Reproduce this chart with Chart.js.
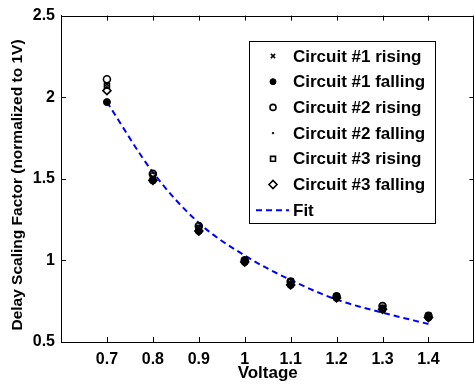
<!DOCTYPE html>
<html>
<head>
<meta charset="utf-8">
<script src="https://cdn.jsdelivr.net/npm/chart.js@4"></script>
<style>
  html, body { margin: 0; padding: 0; background: #fff; overflow: hidden; }
  #wrap { width: 474px; height: 389px; overflow: hidden; }
  canvas { display: block; }
</style>
</head>
<body>
<div id="wrap"><canvas id="delayChart" width="480" height="389"></canvas></div>
<script>
// Supply voltages and the delay of each circuit, normalized to the 1V value
const voltages = [0.7, 0.8, 0.9, 1.0, 1.1, 1.2, 1.3, 1.4];
const c1Rising  = [2.08, 1.51, 1.20, 1.00, 0.86, 0.78, 0.71, 0.66];
const c1Falling = [1.97, 1.49, 1.18, 0.99, 0.85, 0.77, 0.70, 0.65];
const c2Rising  = [2.11, 1.53, 1.21, 1.00, 0.87, 0.78, 0.72, 0.66];
const c2Falling = [2.08, 1.50, 1.19, 1.00, 0.86, 0.77, 0.71, 0.65];
const c3Rising  = [2.07, 1.52, 1.20, 1.00, 0.87, 0.78, 0.71, 0.66];
const c3Falling = [2.04, 1.49, 1.18, 0.99, 0.85, 0.77, 0.70, 0.65];
const fitValues = [1.97, 1.54, 1.23, 1.03, 0.88, 0.76, 0.68, 0.61];

const xTicks = [0.7, 0.8, 0.9, 1.0, 1.1, 1.2, 1.3, 1.4];
const yTicks = [0.5, 1.0, 1.5, 2.0, 2.5];
const yTitle = 'Delay Scaling Factor (normalized to 1V)';

const FONT = '"Liberation Sans", Arial, Helvetica, sans-serif';
Chart.defaults.font.family = FONT;
Chart.defaults.font.size = 16;
Chart.defaults.font.weight = 'bold';
Chart.defaults.color = '#000';

const toPoints = ys => voltages.map((v, i) => ({ x: v, y: ys[i] }));

function markerSet(label, ys, style, radius, filled, width) {
    return {
        label: label,
        data: toPoints(ys),
        showLine: false,
        pointStyle: style,
        pointRadius: radius,
        pointHoverRadius: radius,
        pointBorderWidth: width,
        pointBorderColor: '#000',
        pointBackgroundColor: filled ? '#000' : 'rgba(0,0,0,0)',
        order: 1
    };
}

const datasets = [
    markerSet('Circuit #1 rising', c1Rising, 'crossRot', 3, true, 1.5),
    markerSet('Circuit #1 falling', c1Falling, 'circle', 3.5, true, 1),
    markerSet('Circuit #2 rising', c2Rising, 'circle', 3.5, false, 1.6),
    markerSet('Circuit #2 falling', c2Falling, 'circle', 0.8, true, 1),
    markerSet('Circuit #3 rising', c3Rising, 'rect', 3.5, false, 1.6),
    markerSet('Circuit #3 falling', c3Falling, 'rectRot', 4, false, 1.6),
    {
        label: 'Fit',
        data: toPoints(fitValues),
        borderColor: '#0000ff',
        borderWidth: 2,
        borderDash: [6, 4],
        pointRadius: 0,
        cubicInterpolationMode: 'monotone',
        fill: false,
        order: 2
    }
];

// inward tick marks on all four sides plus the top/right box edges
const boxTicks = {
    id: 'boxTicks',
    afterDraw(chart) {
        const { ctx, chartArea: a, scales: { x, y } } = chart;
        const len = 5;
        ctx.save();
        ctx.strokeStyle = '#000';
        ctx.lineWidth = 1;
        ctx.beginPath();
        ctx.moveTo(a.left, Math.round(a.top) + 0.5);
        ctx.lineTo(a.right, Math.round(a.top) + 0.5);
        ctx.moveTo(Math.round(a.right) - 0.5, a.top);
        ctx.lineTo(Math.round(a.right) - 0.5, a.bottom);
        xTicks.forEach(v => {
            const px = Math.round(x.getPixelForValue(v)) + 0.5;
            ctx.moveTo(px, a.bottom);
            ctx.lineTo(px, a.bottom - len);
            ctx.moveTo(px, a.top);
            ctx.lineTo(px, a.top + len);
        });
        yTicks.forEach(v => {
            const py = Math.round(y.getPixelForValue(v)) + 0.5;
            ctx.moveTo(a.left, py);
            ctx.lineTo(a.left + len, py);
            ctx.moveTo(a.right, py);
            ctx.lineTo(a.right - len, py);
        });
        ctx.stroke();

        // rotated y axis title, sitting a little below the axis centre
        ctx.font = 'bold 15.5px ' + FONT;
        ctx.fillStyle = '#000';
        ctx.textAlign = 'center';
        ctx.textBaseline = 'middle';
        ctx.translate(18, 185);
        ctx.rotate(-Math.PI / 2);
        ctx.fillText(yTitle, 0, 0);
        ctx.restore();
    }
};

// boxed legend in the upper right of the plot
const boxLegend = {
    id: 'boxLegend',
    afterDraw(chart) {
        const ctx = chart.ctx;
        const left = 249.5, top = 41.5, w = 186, h = 182;
        const rowY = 56, rowStep = 25.7, markX = 273, textX = 293;
        ctx.save();
        ctx.fillStyle = '#fff';
        ctx.fillRect(left, top, w, h);
        ctx.strokeStyle = '#000';
        ctx.lineWidth = 1;
        ctx.strokeRect(left, top, w, h);
        ctx.font = 'bold 17px ' + FONT;
        ctx.textBaseline = 'middle';
        chart.data.datasets.forEach((ds, i) => {
            const cy = rowY + i * rowStep;
            if (ds.showLine === false) {
                ctx.strokeStyle = '#000';
                ctx.fillStyle = ds.pointBackgroundColor;
                ctx.lineWidth = ds.pointBorderWidth;
                Chart.helpers.drawPoint(ctx, {
                    pointStyle: ds.pointStyle,
                    radius: ds.pointStyle === 'circle' && ds.pointRadius > 1 ? 3 : ds.pointRadius,
                    borderWidth: ds.pointBorderWidth,
                    rotation: 0
                }, markX, cy);
            } else {
                ctx.strokeStyle = ds.borderColor;
                ctx.lineWidth = 2;
                ctx.setLineDash([6, 4]);
                ctx.beginPath();
                ctx.moveTo(256, cy);
                ctx.lineTo(289, cy);
                ctx.stroke();
                ctx.setLineDash([]);
            }
            ctx.fillStyle = '#000';
            ctx.fillText(ds.label, textX, cy + 1);
        });
        ctx.restore();
    }
};

document.addEventListener('DOMContentLoaded', function() {
    const ctx = document.getElementById('delayChart').getContext('2d');
    new Chart(ctx, {
        type: 'line',
        data: { datasets: datasets },
        options: {
            responsive: false,
            animation: false,
            devicePixelRatio: 1,
            layout: { padding: { top: 15, right: 3, left: 0, bottom: 0 } },
            plugins: { legend: { display: false }, tooltip: { enabled: false } },
            scales: {
                x: {
                    type: 'linear',
                    min: 0.6,
                    max: 1.5,
                    afterBuildTicks: s => { s.ticks = xTicks.map(v => ({ value: v })); },
                    afterFit: s => { s.height = 47; },
                    ticks: { padding: 8, color: '#000', callback: v => String(v) },
                    grid: { display: false, drawTicks: false },
                    border: { display: true, color: '#000', width: 1 },
                    title: { display: true, text: 'Voltage', font: { size: 17 }, padding: { top: 0, bottom: 5 } }
                },
                y: {
                    type: 'linear',
                    min: 0.5,
                    max: 2.5,
                    afterBuildTicks: s => { s.ticks = yTicks.map(v => ({ value: v })); },
                    afterFit: s => { s.width = 61; },
                    ticks: { padding: 6, color: '#000', callback: v => String(v) },
                    grid: { display: false, drawTicks: false },
                    border: { display: true, color: '#000', width: 1 }
                }
            }
        },
        plugins: [boxTicks, boxLegend]
    });
});
</script>
</body>
</html>
